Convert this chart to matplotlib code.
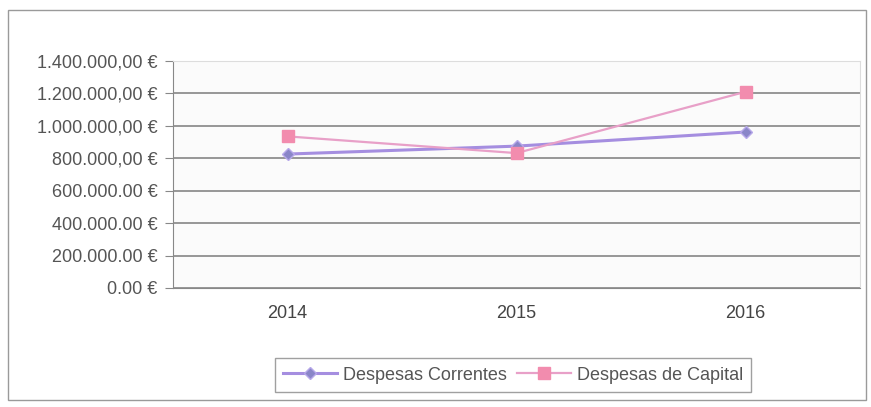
import matplotlib.pyplot as plt
from matplotlib.patches import Rectangle

anos = ['2014', '2015', '2016']
correntes = [826000, 875000, 962000]
capital = [935000, 832000, 1210000]
y_ticks = [0, 200000, 400000, 600000, 800000, 1000000, 1200000, 1400000]
y_labels = ['0.00 €', '200.000.00 €', '400.000.00 €', '600.000.00 €',
            '800.000,00 €', '1.000.000,00 €', '1.200.000,00 €', '1.400.000,00 €']

plt.rcParams['font.family'] = ['Liberation Sans', 'DejaVu Sans']

fig = plt.figure(figsize=(8.71, 4.07), dpi=100)
fig.patches.append(Rectangle((8 / 871, 7 / 407), 858 / 871, 390 / 407, transform=fig.transFigure,
                             fill=False, edgecolor='#9a9a9a', linewidth=1))
ax = fig.add_axes([173 / 871, 1 - 288 / 407, 687 / 871, 227 / 407])
ax.set_facecolor('#fbfbfb')

x = range(len(anos))
ax.plot(x, correntes, color='#a58ee0', linewidth=2.2, marker='D', markersize=6,
        markerfacecolor='#8a86c8', markeredgecolor='#b7a8ea', label='Despesas Correntes', zorder=3)
ax.plot(x, capital, color='#e8a0c8', linewidth=1.6, marker='s', markersize=9,
        markerfacecolor='#f28cae', markeredgecolor='#f28cae', label='Despesas de Capital', zorder=3)

ax.set_xlim(-0.5, 2.5)
ax.set_ylim(0, 1400000)
ax.set_yticks(y_ticks)
ax.set_yticklabels(y_labels, color='#555555', fontsize=13)
ax.set_xticks(x)
ax.set_xticklabels(anos, color='#444444', fontsize=13)
ax.tick_params(axis='x', length=0, pad=12)
ax.tick_params(axis='y', length=6, color='#888888', direction='out', pad=5)
ax.grid(axis='y', color='#8f8f8f', linewidth=1.3)
for s in ['top', 'right']:
    ax.spines[s].set_color('#dddddd')
ax.spines['left'].set_color('#888888')
ax.spines['bottom'].set_color('#888888')

leg = fig.legend(loc='center', bbox_to_anchor=(513 / 871, 1 - 375 / 407), ncol=2, fontsize=13,
                 frameon=True, fancybox=False, edgecolor='#888888', handlelength=3,
                 columnspacing=0.6, handletextpad=0.3, borderpad=0.45)
for t in leg.get_texts():
    t.set_color('#555555')

fig.savefig('out.png', dpi=100)
